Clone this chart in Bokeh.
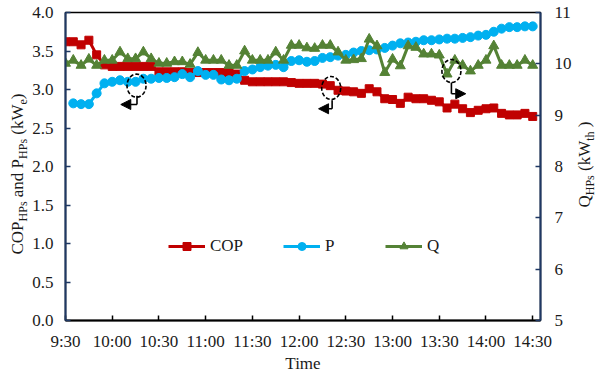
import math
from bokeh.plotting import figure
from bokeh.layouts import row
from bokeh.models import (Range1d, LinearAxis, FixedTicker, Arrow, NormalHead,
                          Legend, LegendItem, NumeralTickFormatter)
from bokeh.core.properties import value
from bokeh.embed import file_html
from bokeh.resources import INLINE

nan = float("nan")

# sample times: minutes after 9:30, every 5 minutes up to 14:30
minutes = [5 * i for i in range(61)]

cop = [3.62, 3.62, 3.58, 3.64, 3.45, 3.32, 3.30, 3.30, 3.30, 3.30,
       3.30, 3.30, 3.23, 3.23, 3.23, 3.23, 3.22, 3.22, 3.22, 3.22,
       3.22, 3.22, 3.20, 3.12, 3.10, 3.10, 3.10, 3.10, 3.10, 3.09,
       3.08, 3.08, 3.08, 3.07, 3.05, 2.99, 2.98, 2.97, 2.95, 3.01,
       2.97, 2.88, 2.87, 2.82, 2.90, 2.88, 2.88, 2.86, 2.84, 2.76,
       2.81, 2.75, 2.70, 2.73, 2.75, 2.76, 2.69, 2.67, 2.67, 2.69,
       2.65]

p_el = [nan, 2.82, 2.81, 2.81, 2.95, 3.08, 3.10, 3.12, 3.10, 3.10,
        3.14, 3.14, 3.15, 3.15, 3.16, 3.20, 3.16, 3.24, 3.19, 3.19,
        3.13, 3.12, 3.14, 3.24, 3.26, 3.29, 3.31, 3.32, 3.29, 3.37,
        3.38, 3.36, 3.37, 3.41, 3.42, 3.44, 3.45, 3.48, 3.50, 3.51,
        3.52, 3.54, 3.57, 3.60, 3.61, 3.62, 3.64, 3.64, 3.65, 3.66,
        3.66, 3.67, 3.68, 3.70, 3.71, 3.75, 3.79, 3.81, 3.81, 3.82,
        3.82]

q_th = [10.01, 10.07, 9.97, 10.09, 9.97, 10.07, 10.07, 10.23, 10.10, 10.10,
        10.23, 10.10, 10.01, 10.01, 10.04, 10.04, 9.99, 10.22, 10.07, 10.07,
        10.07, 9.97, 9.97, 10.25, 10.07, 10.07, 10.07, 10.23, 10.07, 10.36,
        10.36, 10.31, 10.30, 10.36, 10.36, 10.23, 10.07, 10.08, 10.10, 10.48,
        10.35, 9.83, 10.09, 9.96, 10.35, 10.32, 10.19, 10.19, 10.17, 9.80,
        10.07, 9.97, 9.86, 9.97, 10.07, 10.35, 9.97, 9.97, 9.97, 10.07,
        9.97]

tick_minutes = [0, 30, 60, 90, 120, 150, 180, 210, 240, 270, 300]
tick_labels = ["9:30", "10:00", "10:30", "11:00", "11:30", "12:00",
               "12:30", "13:00", "13:30", "14:00", "14:30"]
left_ticks = [0, 0.5, 1.0, 1.5, 2.0, 2.5, 3.0, 3.5, 4.0]
right_ticks = [5, 6, 7, 8, 9, 10, 11]

# annotation marks (data units: minutes, left-axis value)
circles_x = [45.6, 170.6, 247.8]
circles_y = [3.05, 3.02, 3.24]
stems = [(45.9, 2.92, 2.805), (171.2, 2.86, 2.75), (247.8, 3.09, 2.945)]
arrows = [(45.9, 2.805, 35.5, 2.805), (171.2, 2.75, 162.5, 2.75), (247.8, 2.945, 257.0, 2.945)]

RED = "#C00000"
BLUE = "#00B0F0"
GREEN = "#548235"
NAVY = "#1F3864"
FONT = "Liberation Serif"
TXT = "#1a1a1a"
H = 376
TOP = 12
BOTTOM = 56
LEFT_W = 29
RIGHT_W = 22
MAIN_W = 596 - LEFT_W - RIGHT_W

p = figure(width=MAIN_W, height=H, x_range=Range1d(0, 305), y_range=Range1d(0, 4),
           output_backend="svg", toolbar_location=None,
           min_border_left=63 - LEFT_W, min_border_right=LEFT_W + MAIN_W - 541,
           min_border_top=TOP, min_border_bottom=BOTTOM)
p.xgrid.visible = False
p.ygrid.visible = False
p.outline_line_color = "black"
p.outline_line_width = 1.5
p.background_fill_color = "white"

p.extra_y_ranges = {"q": Range1d(5, 11)}

# x axis
xa = p.xaxis[0]
xa.ticker = FixedTicker(ticks=tick_minutes)
xa.major_label_overrides = {m: l for m, l in zip(tick_minutes, tick_labels)}
xa.axis_line_color = "black"
xa.axis_line_width = 2
xa.major_tick_in = 5
xa.major_tick_out = 0
xa.major_tick_line_color = "black"
xa.major_tick_line_width = 1.5
xa.minor_tick_line_color = None
xa.major_label_standoff = 11
xa.major_label_text_font = FONT
xa.major_label_text_font_size = "17px"
xa.major_label_text_color = TXT
xa.axis_label = "Time"
xa.axis_label_standoff = 0
xa.axis_label_text_font = FONT
xa.axis_label_text_font_size = "17px"
xa.axis_label_text_font_style = "normal"
xa.axis_label_text_color = TXT

# left axis
ya = p.yaxis[0]
ya.ticker = FixedTicker(ticks=left_ticks)
ya.formatter = NumeralTickFormatter(format="0.0")
ya.axis_line_color = NAVY
ya.axis_line_width = 2
ya.major_tick_in = 5
ya.major_tick_out = 0
ya.major_tick_line_color = NAVY
ya.major_tick_line_width = 1.5
ya.minor_tick_line_color = None
ya.major_label_standoff = 12
ya.major_label_text_font = FONT
ya.major_label_text_font_size = "17px"
ya.major_label_text_color = TXT

# right axis
ra = LinearAxis(y_range_name="q", ticker=FixedTicker(ticks=right_ticks))
ra.axis_line_color = NAVY
ra.axis_line_width = 2
ra.major_tick_in = 5
ra.major_tick_out = 0
ra.major_tick_line_color = NAVY
ra.major_tick_line_width = 1.5
ra.minor_tick_line_color = None
ra.major_label_standoff = 14
ra.major_label_text_font = FONT
ra.major_label_text_font_size = "17px"
ra.major_label_text_color = TXT
p.add_layout(ra, "right")

# series
l_cop = p.line(minutes, cop, line_color=RED, line_width=3)
s_cop = p.scatter(minutes, cop, marker="square", size=8, fill_color=RED, line_color=RED)
l_p = p.line(minutes, p_el, line_color=BLUE, line_width=3)
s_p = p.scatter(minutes, p_el, marker="circle", size=9, fill_color=BLUE, line_color=BLUE)
l_q = p.line(minutes, q_th, line_color=GREEN, line_width=3, y_range_name="q")
s_q = p.scatter(minutes, q_th, marker="triangle", size=10, fill_color=GREEN, line_color=GREEN,
                y_range_name="q")

# annotations: dashed circles with arrows
p.ellipse(x=circles_x, y=circles_y, width=19, height=23, width_units="screen",
          height_units="screen", fill_alpha=0, line_color="black", line_width=1.6,
          line_dash="4 2")
p.segment(x0=[s[0] for s in stems], y0=[s[1] for s in stems],
          x1=[s[0] for s in stems], y1=[s[2] for s in stems],
          line_color="black", line_width=1.6)
for (x0, y0, x1, y1) in arrows:
    p.add_layout(Arrow(end=NormalHead(size=10, fill_color="black", line_color="black"),
                       x_start=x0, y_start=y0, x_end=x1, y_end=y1,
                       line_color="black", line_width=1.6))

legend = Legend(items=[LegendItem(label="COP", renderers=[l_cop, s_cop]),
                       LegendItem(label="P", renderers=[l_p, s_p]),
                       LegendItem(label="Q", renderers=[l_q, s_q])],
                orientation="horizontal", location=(103, 64),
                border_line_color=None, background_fill_alpha=0,
                glyph_width=37, glyph_height=20, label_height=20,
                label_text_font=FONT, label_text_font_size="17px", label_text_color=TXT,
                spacing=40, padding=0, margin=0, label_standoff=5)
p.add_layout(legend)

# vertical axis titles with subscripts, drawn in narrow side figures
# (their frames are aligned with the main frame by the row layout; y = H - page_y)
W = {'C': 0.667, 'O': 0.722, 'P': 0.556, 'H': 0.722, 's': 0.389, ' ': 0.25, 'a': 0.444,
     'n': 0.5, 'd': 0.5, '(': 0.333, 'k': 0.5, 'W': 0.944, 'e': 0.444, ')': 0.333,
     'Q': 0.722, 't': 0.278, 'h': 0.5}


def tw(s, size):
    return sum(W.get(c, 0.5) for c in s) * size


def title_fig(width, pieces, x_base, y_start):
    f = figure(width=width, height=H, x_range=Range1d(0, width),
               y_range=Range1d(BOTTOM, H - TOP),
               output_backend="svg", toolbar_location=None,
               min_border_left=0, min_border_right=0, min_border_top=TOP,
               min_border_bottom=BOTTOM,
               x_axis_location=None, y_axis_location=None)
    f.grid.visible = False
    f.outline_line_color = None
    pos = y_start
    for text, size, sub in pieces:
        lead = len(text) - len(text.lstrip(" "))
        pos += tw(" " * lead, size)
        t = text.strip(" ")
        if t:
            L = tw(t, size)
            xc = x_base + 4 - 0.34 * size if sub else x_base - 0.34 * size
            f.text(x=[xc], y=[pos + L / 2], text=[t], angle=math.pi / 2,
                   text_align="center", text_baseline="middle",
                   text_font=value(FONT), text_font_size=value(f"{size}px"), text_color=TXT)
            pos += L
        trail = len(text) - len(text.rstrip(" "))
        pos += tw(" " * trail, size)
    return f


left_title = [("COP", 17, False), ("HPs", 12, True), (" and P", 17, False), ("HPs", 12, True),
              (" (kW", 17, False), ("e", 12, True), (")", 17, False)]
right_title = [("Q", 17, False), ("HPs", 12, True), (" (kW", 17, False), ("th", 12, True),
               (" )", 17, False)]

lf = title_fig(LEFT_W, left_title, 23, H - 254)
rf = title_fig(RIGHT_W, right_title, 16, H - 207)

layout = row(lf, p, rf, spacing=0)
open("out.html", "w").write(file_html(layout, INLINE))
